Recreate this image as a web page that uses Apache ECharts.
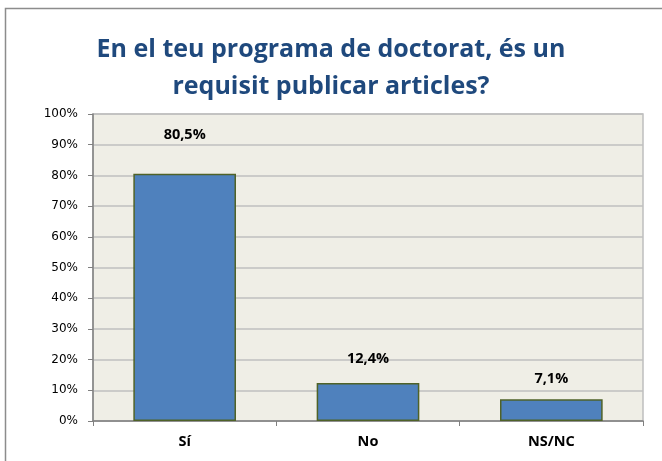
<!DOCTYPE html>
<html><head><meta charset="utf-8">
<script src="https://cdn.jsdelivr.net/npm/echarts@6/dist/echarts.min.js"></script>
<style>html,body{margin:0;padding:0;background:#fff}#c{width:662px;height:461px}</style>
</head><body><div id="c"></div>
<script>
const categories = ['Sí', 'No', 'NS/NC'];
const values = [80.5, 12.4, 7.1];
const labelTexts = ['80,5%', '12,4%', '7,1%'];
const labelGaps = [31, 17, 13];
const yTicks = [0, 10, 20, 30, 40, 50, 60, 70, 80, 90, 100];

const chart = echarts.init(document.getElementById('c'));
chart.setOption({
  animation: false,
  backgroundColor: '#fff',
  graphic: [{
    type: 'polyline', shape: { points: [[5.5, 470], [5.5, 8.5], [670, 8.5]] },
    style: { stroke: '#8c8c8c', lineWidth: 1.5, fill: null }, silent: true
  }],
  title: {
    text: 'En el teu programa de doctorat, és un\nrequisit publicar articles?',
    left: 'center', top: 26,
    textStyle: { fontFamily: 'Open Sans', fontWeight: 'bold', fontSize: 25, color: '#1F497D', lineHeight: 37 }
  },
  grid: { left: 93, right: 19, top: 114, bottom: 40, show: true, backgroundColor: '#EFEEE6', borderColor: '#BFBFBF', borderWidth: 1.5 },
  xAxis: {
    type: 'category', data: categories,
    axisLine: { lineStyle: { color: '#808080', width: 1.5 } },
    axisTick: { show: true, length: 5, alignWithLabel: false, lineStyle: { color: '#808080' } },
    axisLabel: { margin: 13, fontFamily: 'Open Sans', fontWeight: 'bold', fontSize: 14.5, color: '#000' }
  },
  yAxis: {
    type: 'value', min: 0, max: 100, interval: 10,
    axisLine: { show: true, lineStyle: { color: '#808080', width: 1.5 } },
    axisTick: { show: true, length: 5, lineStyle: { color: '#808080' } },
    splitLine: { lineStyle: { color: '#BFBFBF', width: 1.5 } },
    axisLabel: { margin: 15, fontFamily: 'DejaVu Sans', fontSize: 12, color: '#000',
      formatter: v => yTicks.includes(v) ? v + '%' : '' }
  },
  series: [{
    type: 'bar', barWidth: '56%',
    data: values.map((v, i) => ({
      value: v,
      label: { show: true, position: 'top', distance: labelGaps[i], formatter: labelTexts[i],
        fontFamily: 'Open Sans', fontWeight: 'bold', fontSize: 14.5, color: '#000' }
    })),
    itemStyle: { color: '#4F81BD', borderColor: '#4F6228', borderWidth: 1.5 }
  }]
});
</script></body></html>
